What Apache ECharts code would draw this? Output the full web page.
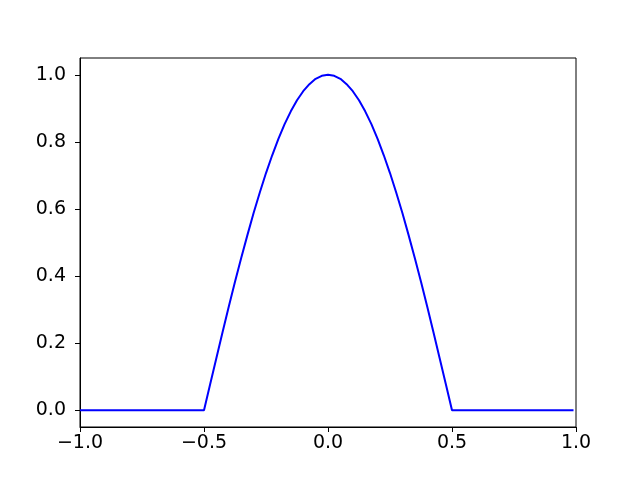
<!DOCTYPE html>
<html>
<head>
<meta charset="utf-8">
<script src="https://cdn.jsdelivr.net/npm/echarts@6/dist/echarts.min.js"></script>
<style>
  html, body { margin: 0; padding: 0; background: #fff; }
  #chart { width: 640px; height: 480px; }
</style>
</head>
<body>
<div id="chart"></div>
<script>
// x positions and curve values
var xs = [-1.0, -0.5, -0.475, -0.45, -0.425, -0.4, -0.375, -0.35, -0.325, -0.3, -0.275,
  -0.25, -0.225, -0.2, -0.175, -0.15, -0.125, -0.1, -0.075, -0.05, -0.025, 0.0,
  0.025, 0.05, 0.075, 0.1, 0.125, 0.15, 0.175, 0.2, 0.225, 0.25, 0.275, 0.3,
  0.325, 0.35, 0.375, 0.4, 0.425, 0.45, 0.475, 0.5, 0.99];
var ys = [0.0, 0.0, 0.078, 0.156, 0.233, 0.309, 0.383, 0.454, 0.522, 0.588, 0.649,
  0.707, 0.760, 0.809, 0.853, 0.891, 0.924, 0.951, 0.972, 0.988, 0.997, 1.0,
  0.997, 0.988, 0.972, 0.951, 0.924, 0.891, 0.853, 0.809, 0.760, 0.707, 0.649, 0.588,
  0.522, 0.454, 0.383, 0.309, 0.233, 0.156, 0.078, 0.0, 0.0];
var yTicks = [0.0, 0.2, 0.4, 0.6, 0.8, 1.0];
var xTicks = [-1.0, -0.5, 0.0, 0.5, 1.0];

var pts = [];
for (var i = 0; i < xs.length; i++) {
    pts.push([xs[i], ys[i]]);
}

function fmt(v) {
    return v.toFixed(1).replace('-', '\u2212');
}

var myChart = echarts.init(document.getElementById('chart'));
var option = {
    animation: false,
    grid: {
        left: 80, right: 64, top: 58, bottom: 53,
        show: true, borderColor: '#000', borderWidth: 1, backgroundColor: 'transparent'
    },
    xAxis: {
        type: 'value',
        min: -1, max: 1, interval: 0.5,
        axisLine: { show: true, onZero: false, lineStyle: { color: '#000', width: 1 } },
        axisTick: { show: true, length: 5, lineStyle: { color: '#000' }, customValues: xTicks },
        axisLabel: {
            color: '#000', fontSize: 19, fontFamily: 'DejaVu Sans', margin: 7,
            customValues: xTicks, formatter: fmt
        },
        splitLine: { show: false }
    },
    yAxis: {
        type: 'value',
        min: -0.05, max: 1.05,
        axisLine: { show: true, onZero: false, lineStyle: { color: '#000', width: 1 } },
        axisTick: { show: true, length: 5, lineStyle: { color: '#000' }, customValues: yTicks },
        axisLabel: {
            color: '#000', fontSize: 19, fontFamily: 'DejaVu Sans', margin: 14,
            customValues: yTicks, formatter: fmt
        },
        splitLine: { show: false }
    },
    series: [{
        type: 'line',
        data: pts,
        showSymbol: false,
        lineStyle: { color: '#0000ff', width: 2 },
        itemStyle: { color: '#0000ff' }
    }]
};
myChart.setOption(option);
</script>
</body>
</html>
